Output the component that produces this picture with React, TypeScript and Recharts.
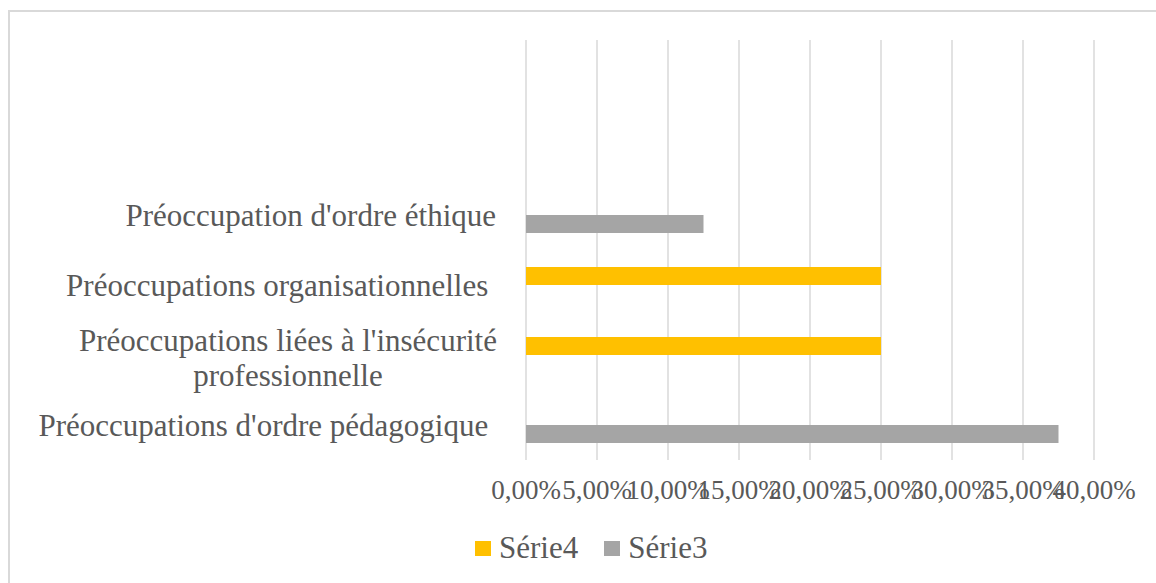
import React from "react"
import { BarChart, Bar, XAxis, YAxis, CartesianGrid, Legend } from "recharts"

// top to bottom, the first two rows are empty in the original chart
const categories = ["", " ", "Préoccupation d'ordre éthique", "Préoccupations organisationnelles ", "Préoccupations liées à l'insécurité professionnelle", "Préoccupations d'ordre pédagogique "]
const serie4 = [null, null, null, 0.25, 0.25, null]
const serie3 = [null, null, 0.125, null, null, 0.375]
const xTicks = [0, 0.05, 0.1, 0.15, 0.2, 0.25, 0.3, 0.35, 0.4]
const legendOrder = ["Série4", "Série3"]

const data = categories.map((name, i) => ({ name, serie4: serie4[i], serie3: serie3[i] }))

const FONT = "'Liberation Serif', 'Times New Roman', serif"
const TEXT = "#595959"

const fmtPct = (v: number) => (v * 100).toFixed(2).replace(".", ",") + "%"

function CategoryTick(props: any) {
  const { x, y, payload } = props
  const label: string = payload.value
  if (label === "Préoccupations liées à l'insécurité professionnelle") {
    return (
      <g>
        <text x={x - 230} y={y - 15} textAnchor="middle" fill={TEXT} fontSize={31} fontFamily={FONT} dy="0.35em">
          Préoccupations liées à l'insécurité
        </text>
        <text x={x - 230} y={y + 20} textAnchor="middle" fill={TEXT} fontSize={31} fontFamily={FONT} dy="0.35em">
          professionnelle
        </text>
      </g>
    )
  }
  return (
    <text x={x - 22} y={y} textAnchor="end" fill={TEXT} fontSize={31} fontFamily={FONT} dy="0.35em" style={{ whiteSpace: "pre" }}>
      {label}
    </text>
  )
}

function LegendContent(props: any) {
  const items = [...(props.payload || [])].sort(
    (a: any, b: any) => legendOrder.indexOf(a.value) - legendOrder.indexOf(b.value)
  )
  return (
    <div style={{ display: "flex", alignItems: "center", fontFamily: FONT, fontSize: 31, color: TEXT, lineHeight: "36px" }}>
      {items.map((entry: any, i: number) => (
        <div key={i} style={{ display: "flex", alignItems: "center", marginRight: 26 }}>
          <span style={{ width: 16, height: 15, background: entry.color, display: "inline-block", marginRight: 8 }} />
          <span>{entry.value}</span>
        </div>
      ))}
    </div>
  )
}

export default function App() {
  return (
    <div style={{ position: "relative", width: 1156, height: 583, overflow: "hidden", background: "#fff" }}>
      <style>{`body{margin:0;overflow:hidden}`}</style>
      <div style={{ position: "absolute", left: 8, top: 10, width: 1200, height: 700, border: "2px solid #d9d9d9", boxSizing: "border-box" }} />
      <div style={{ position: "absolute", left: 0, top: 0 }}>
        <BarChart width={1156} height={583} data={data} layout="vertical" margin={{ top: 40, right: 62, bottom: 0, left: 0 }} barGap={0}>
          <CartesianGrid horizontal={false} stroke="#d9d9d9" strokeWidth={1.5} />
          <XAxis
            type="number"
            domain={[0, 0.4]}
            ticks={xTicks}
            tickFormatter={fmtPct}
            axisLine={false}
            tickLine={false}
            tickMargin={14}
            height={87}
            interval={0}
            tick={{ fill: TEXT, fontSize: 27, fontFamily: FONT }}
          />
          <YAxis type="category" dataKey="name" width={526} axisLine={false} tickLine={false} interval={0} tick={<CategoryTick />} />
          <Bar dataKey="serie4" name="Série4" fill="#FFC000" barSize={18} isAnimationActive={false} />
          <Bar dataKey="serie3" name="Série3" fill="#A5A5A5" barSize={18} isAnimationActive={false} />
          <Legend content={<LegendContent />} wrapperStyle={{ left: 475, top: 530, width: "auto" }} />
        </BarChart>
      </div>
    </div>
  )
}
